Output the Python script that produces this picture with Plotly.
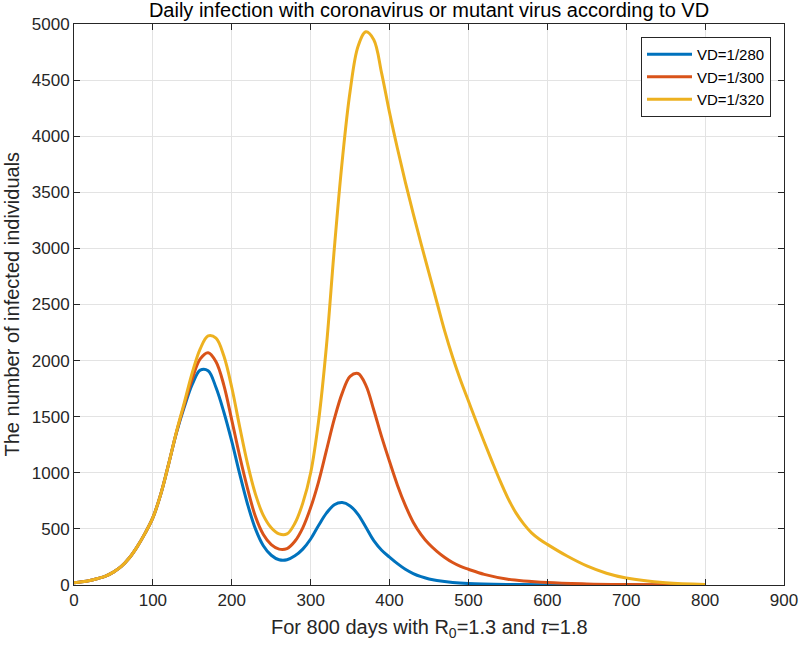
import plotly.graph_objects as go

# ---- data ----
days_blue = [0, 10, 20, 30, 40, 50, 60, 70, 80, 90, 100, 110, 120, 130, 140, 150, 160, 170, 180, 190, 200,
             210, 220, 230, 240, 250, 260, 270, 280, 290, 300, 310, 320, 330, 340, 350, 360, 370, 380, 390, 400,
             410, 420, 430, 440, 450, 460, 480, 500, 550, 600, 700, 800]
vals_blue = [20, 28, 40, 58, 80, 115, 165, 240, 340, 460, 600, 810, 1080, 1360, 1590, 1790, 1915, 1910, 1760, 1540, 1280,
             990, 720, 500, 350, 265, 225, 225, 260, 320, 410, 530, 640, 715, 735, 705, 630, 515, 395, 310, 248,
             190, 140, 102, 74, 54, 40, 22, 13, 5, 2, 1, 0]

days_orange = [0, 10, 20, 30, 40, 50, 60, 70, 80, 90, 100, 110, 120, 130, 140, 150, 160, 170, 180, 190, 200,
               210, 220, 230, 240, 250, 260, 270, 280, 290, 300, 310, 320, 330, 340, 350, 360, 370, 380, 390, 400,
               410, 420, 430, 440, 450, 460, 470, 480, 490, 500, 520, 550, 600, 650, 700, 800]
vals_orange = [20, 28, 40, 58, 80, 115, 165, 240, 340, 460, 600, 810, 1080, 1365, 1610, 1840, 2015, 2070, 1990, 1780, 1470,
               1150, 860, 610, 450, 360, 320, 325, 390, 510, 690, 920, 1200, 1480, 1710, 1860, 1885, 1780, 1560, 1320, 1100,
               890, 710, 560, 450, 365, 300, 245, 200, 165, 140, 95, 52, 22, 10, 5, 1]

days_yellow = [0, 10, 20, 30, 40, 50, 60, 70, 80, 90, 100, 110, 120, 130, 140, 150, 160, 170, 180, 190, 200,
               210, 220, 230, 240, 250, 260, 270, 280, 290, 300, 310, 320, 330, 340, 350, 360, 370, 380, 390, 400,
               410, 420, 430, 440, 450, 460, 470, 480, 490, 500, 510, 520, 530, 540, 550, 560, 570, 580, 590, 600,
               625, 650, 675, 700, 750, 800]
vals_yellow = [20, 28, 40, 58, 80, 115, 165, 240, 340, 460, 600, 810, 1080, 1370, 1630, 1895, 2105, 2220, 2200, 2040, 1760,
               1410, 1080, 810, 620, 510, 455, 455, 550, 730, 1000, 1460, 2130, 3000, 3780, 4400, 4800, 4930, 4860, 4560, 4210,
               3890, 3590, 3310, 3040, 2780, 2520, 2260, 2030, 1825, 1640, 1455, 1275, 1100, 930, 775, 645, 545, 465, 408, 362,
               258, 170, 105, 62, 20, 5]

series_names = ["VD=1/280", "VD=1/300", "VD=1/320"]
series_colors = ["#0072BD", "#D95319", "#EDB120"]

x_ticks = [0, 100, 200, 300, 400, 500, 600, 700, 800, 900]
y_ticks = [0, 500, 1000, 1500, 2000, 2500, 3000, 3500, 4000, 4500, 5000]

fig = go.Figure()
for name, color, xs, ys in zip(series_names, series_colors,
                               [days_blue, days_orange, days_yellow],
                               [vals_blue, vals_orange, vals_yellow]):
    fig.add_trace(go.Scatter(x=xs, y=ys, mode="lines", name=name,
                             line=dict(color=color, width=3, shape="spline", smoothing=1.0)))

axis_color = "#262626"
grid_color = "#e3e3e3"
font_family = "Liberation Sans, Arial, Helvetica, sans-serif"

W, H = 800, 647
L, R, T, B = 74, 16, 24, 62
pw, ph = W - L - R, H - T - B

fig.update_layout(
    width=W, height=H,
    paper_bgcolor="white", plot_bgcolor="white",
    margin=dict(l=L, r=R, t=T, b=B, autoexpand=False),
    font=dict(family=font_family, size=17, color=axis_color),
    title=dict(text="Daily infection with coronavirus or mutant virus according to VD",
               x=0.5, xref="paper", xanchor="center", y=(647 - 10) / 647, yref="container", yanchor="middle",
               pad=dict(t=0, b=0), automargin=False,
               font=dict(size=20, color="#000000")),
    showlegend=True,
    legend=dict(x=(771 - L) / pw, y=(585 - 37) / ph, xanchor="right", yanchor="top",
                bgcolor="white", bordercolor=axis_color, borderwidth=1,
                font=dict(size=15, color="#000000"),
                tracegroupgap=0, itemwidth=45),
)

fig.update_xaxes(range=[0, 900], tickvals=x_ticks, ticktext=[str(v) for v in x_ticks],
                 showgrid=True, gridcolor=grid_color, gridwidth=1,
                 showline=True, linecolor=axis_color, linewidth=1, mirror="ticks",
                 ticks="inside", ticklen=6, tickcolor=axis_color, zeroline=False,
                 tickfont=dict(size=17, color=axis_color), automargin=False)
fig.update_yaxes(range=[0, 5000], tickvals=y_ticks, ticktext=[str(v) for v in y_ticks],
                 showgrid=True, gridcolor=grid_color, gridwidth=1,
                 showline=True, linecolor=axis_color, linewidth=1, mirror="ticks",
                 ticks="inside", ticklen=6, tickcolor=axis_color, zeroline=False,
                 tickfont=dict(size=17, color=axis_color), automargin=False)

# axis titles as annotations for precise placement
fig.add_annotation(text="For 800 days with R<sub>0</sub>=1.3 and <i>τ</i>=1.8",
                   xref="paper", yref="paper", x=0.5, y=(585 - 614) / ph,
                   xanchor="center", yanchor="top", showarrow=False,
                   font=dict(size=20, color=axis_color))
fig.add_annotation(text="The number of infected individuals",
                   xref="paper", yref="paper", x=(11 - L) / pw, y=0.5,
                   xanchor="center", yanchor="middle", textangle=-90, showarrow=False,
                   font=dict(size=20, color=axis_color))

fig.write_html("out.html", config={"displayModeBar": False},
               post_script="document.body.style.margin='0px';")
